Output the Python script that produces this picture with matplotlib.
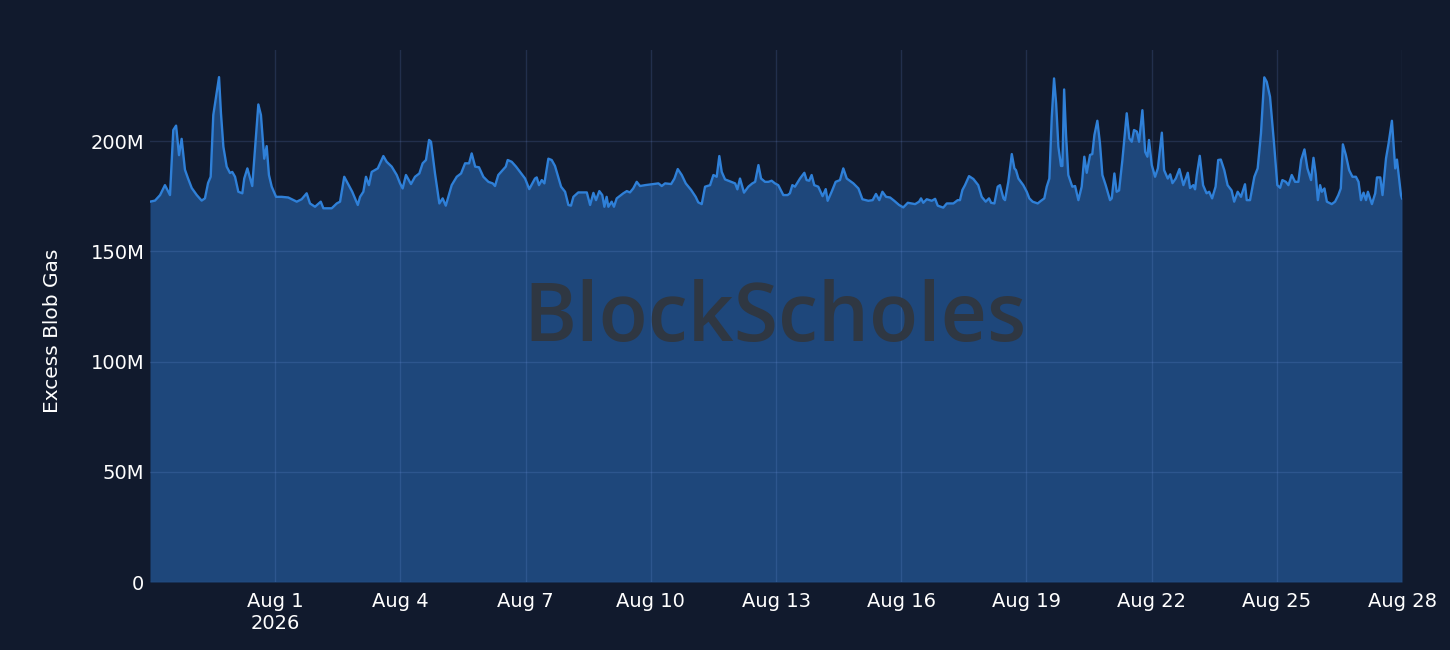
import pandas as pd
import matplotlib
matplotlib.use("Agg")
import matplotlib.pyplot as plt
from matplotlib.ticker import FuncFormatter, MultipleLocator

START = pd.Timestamp("2026-07-29 00:00")
END = pd.Timestamp("2026-08-28 00:00")

# hours since START, excess blob gas in millions
hours_1 = [0, 2.9, 5.8, 8.6, 11.5, 13.4, 15.0, 16.7, 18.2, 20.1, 21.9, 24.0, 26.9, 29.7,
           31.6, 33.4, 34.9, 36.4, 38.0, 39.7, 40.8, 42.2, 44.1, 46.0, 47.3, 48.9, 50.8,
           53.1, 54.2, 56.0, 58.8, 60.8, 62.3, 63.8, 65.7, 67.1, 68.4, 70.0, 72.5, 75.7,
           79.5, 84.4, 87.2, 90.1, 92.0, 94.9, 98.2, 99.7, 104.5, 107.4, 109.3, 111.7,
           113.7, 116.3, 119.5]
gas_1 = [172.5, 173, 175.5, 180, 175.5, 205, 207, 193.6, 201, 187, 183, 178.7, 175.5, 173,
         174, 181, 183.8, 211.8, 220, 229, 212.7, 197.4, 188.4, 185.5, 186, 183.8, 177,
         176.3, 183, 187.6, 179.6, 200.5, 216.6, 211.8, 192, 197.7, 184.6, 179.3, 174.7, 174.7,
         174.4, 172.5, 173.6, 176.3, 171.7, 170.2, 172.5, 169.5, 169.5, 171.7, 172.5, 183.8,
         180.8, 177, 171]

hours_2 = [120.8, 122.7, 124.2, 125.9, 127.5, 131.0, 134.2, 136.1, 139.0, 141.9, 143.8,
           145.3, 147.2, 150.1, 152.4, 154.9, 156.8, 158.7, 160.5, 161.6, 163.9, 166.4,
           168.3, 170.1, 173.5, 176.4, 178.9, 181.2, 183.5, 185.0, 187.0, 189.2, 191.7,
           194.6, 197.1, 198.4, 200.3, 204.6, 205.7, 208.0, 210.5, 212.8, 215.7, 218.1,
           221.4, 222.4, 223.7, 225.3, 226.8, 229.1, 231.0, 232.9, 236.4, 238.7, 240.6]
gas_2 = [174.7, 177, 183.8, 180, 186, 187.6, 193.2, 190.6, 188.4, 184.6, 180.8,
         178.5, 184.6, 180.5, 183.8, 185.3, 189.9, 191.4, 200.5, 199.7, 185.3, 171.7,
         174, 170.7, 180, 183.8, 185.3, 189.9, 189.9, 194.4, 188.4, 188.1, 183.8,
         181.5, 180.8, 179.6, 184.6, 188.4, 191.4, 190.6, 188.4, 186, 183, 178.2,
         183, 183.5, 180, 182.3, 180.8, 192, 191.4, 188.7, 179.3, 177, 171]

hours_3 = [242.1, 243.5, 246.3, 251.2, 253.1, 255.0, 256.5, 258.4, 260.1, 261.3, 262.6,
           263.6, 265.5, 266.8, 268.4, 272.2, 274.2, 276.0, 277.9, 279.9, 281.8, 284.7,
           287.6, 292.4, 294.3, 296.2, 299.7, 301.6, 303.5, 305.8, 308.1, 311.2, 313.8,
           315.3, 317.3, 319.2, 322.1, 324.0, 325.9, 327.4, 328.8, 330.7, 334.2, 336.5,
           337.8, 339.3, 341.6, 344.1, 346.4, 348.0, 349.9, 351.4, 353.7, 355.6, 357.5]
gas_3 = [170.7, 174.7, 176.7, 176.7, 171, 176.5, 173.2, 177.3, 175.5, 170.2, 174.7,
         170.2, 172.5, 170.2, 174, 176.3, 177.3, 176.7, 178.5, 181.5, 179.6, 180,
         180.3, 180.8, 179.6, 180.8, 180.5, 183, 187.3, 184.6, 180.8, 177.8, 174.7,
         172.2, 171.4, 179.3, 180, 184.6, 183.8, 193.2, 186, 182.6, 181.5, 180.8,
         178.1, 183, 176.6, 179.3, 180.8, 181.5, 189.1, 183, 181.5, 181.5, 182]

hours_4 = [359.4, 361.3, 364.2, 366.7, 368.0, 369.4, 370.9, 373.8, 376.3, 377.6, 379.1,
           380.5, 382.0, 384.3, 386.8, 388.6, 389.7, 392.0, 394.3, 396.8, 398.7, 400.7,
           404.5, 407.4, 409.7, 413.1, 415.6, 417.5, 419.4, 421.2, 423.3, 425.6, 428.0,
           430.8, 433.2, 435.8, 440.0, 442.3, 443.4, 444.7, 446.7, 449.6, 451.5, 453.0,
           456.2, 458.2, 462.0, 464.5, 465.8, 467.2, 468.7, 471.0, 473.5, 476.3, 478.3, 480.6]
gas_4 = [180.8, 180, 175.5, 175.5, 176.3, 180, 179.3, 183, 185.6, 182.3, 182,
         184.6, 180, 179.3, 175, 178.2, 172.9, 177, 181.5, 182.3, 187.6, 183,
         180.8, 178.5, 173.6, 172.9, 173.2, 176, 173.2, 177, 174.7, 174.4, 172.9,
         171, 169.9, 172, 171.4, 172.5, 174, 172, 173.6, 172.9, 173.8, 170.7,
         169.8, 171.7, 171.7, 173.2, 173.2, 177.8, 180, 184.1, 182.8, 180, 174.7, 172.5]

hours_5 = [482.5, 483.7, 485.6, 487.5, 488.8, 490.8, 491.7, 493.6, 495.6, 497.1, 498.0,
           499.4, 502.2, 504.2, 505.7, 507.6, 510.5, 512.4, 514.3, 515.7, 517.2, 518.6,
           519.9, 521.1, 522.4, 523.9, 524.7, 525.7, 526.8, 528.1, 530.4, 532.0, 533.9,
           535.8, 537.3, 538.7, 540.6, 541.9, 543.1, 544.8, 546.3, 547.7, 549.6, 552.1,
           553.1, 554.6, 555.9, 557.3, 559.2, 561.7, 563.2, 564.6, 565.9, 567.5, 568.8,
           570.7, 572.3, 573.6, 574.5, 576.1, 578.0, 579.6, 581.9, 583.2, 585.3, 586.7,
           588.0, 589.9, 592.0, 594.3, 596.8, 598.1, 600.0, 601.0, 602.0]
gas_5 = [174, 172, 171.7, 179.3, 180, 174, 173.2, 181.5, 194.1, 187.6, 186.8,
         183, 180, 177, 174, 172.5, 171.7, 172.9, 174, 179.3, 183, 211,
         228.4, 217, 197.4, 188.7, 188.7, 223.4, 202.7, 184.6, 179.3, 179.6, 173.2,
         179.3, 192.9, 185.6, 193.7, 194.1, 202.7, 209.2, 199, 184.6, 180, 173.2,
         174, 185.3, 177, 177.6, 191.4, 212.6, 201.2, 199.7, 205, 204.3, 199.7,
         214, 195.1, 192.9, 200.5, 189.1, 183.8, 187.6, 203.8, 186.8, 183, 184.9,
         180.9, 183, 187.3, 180, 185.6, 178.7, 180, 178.1, 184.6]

hours_6 = [603.7, 605.6, 607.6, 609.1, 610.8, 612.8, 614.3, 615.8, 617.8, 619.7, 622.0,
           623.5, 625.5, 627.4, 629.7, 630.7, 632.6, 635.1, 637.0, 638.9, 640.8, 642.2,
           644.1, 646.4, 648.3, 649.9, 651.2, 653.2, 654.7, 656.6, 658.5, 660.4, 662.0,
           663.9, 665.6, 667.7, 669.1, 670.4, 671.6, 672.9, 673.9, 675.4, 676.8, 679.6,
           681.5, 683.4, 684.8, 686.0, 687.7, 689.6, 691.5, 693.5, 695.0, 696.4, 697.9,
           699.3, 700.4, 702.7, 704.6, 705.6, 707.5, 708.8, 710.8, 712.3, 714.2, 716.1,
           717.1, 719.4, 720.0]
gas_6 = [193.3, 180, 176.3, 177, 174, 179.3, 191.4, 191.6, 186.8, 180, 177.6,
         172.5, 177, 174.7, 180.4, 173.2, 173.2, 183.8, 187.6, 203.5, 228.9, 226.9,
         220.1, 199, 180, 178.8, 182.3, 181.5, 180, 184.6, 181.5, 181.5, 191.4,
         196.2, 187.6, 182.3, 192.4, 184.9, 173.2, 180, 177, 178.5, 172.5, 171.4,
         172.5, 175.5, 178.5, 198.5, 193.7, 186.8, 183.8, 183.8, 181.5, 173.2, 176.6,
         173.2, 177, 171.4, 176.3, 183.5, 183.5, 175.5, 192.1, 199, 209.2, 187.6,
         191.6, 175.5, 174]

tick_dates = ["2026-08-01", "2026-08-04", "2026-08-07", "2026-08-10", "2026-08-13",
              "2026-08-16", "2026-08-19", "2026-08-22", "2026-08-25", "2026-08-28"]
tick_labels = ["Aug 1\n2026", "Aug 4", "Aug 7", "Aug 10", "Aug 13",
               "Aug 16", "Aug 19", "Aug 22", "Aug 25", "Aug 28"]

BG = "#111a2d"
FILL = "#1e477b"
LINE = "#2f80d8"
GRID = "#89adff"

hours = hours_1 + hours_2 + hours_3 + hours_4 + hours_5 + hours_6
gas = gas_1 + gas_2 + gas_3 + gas_4 + gas_5 + gas_6
df = pd.DataFrame({"time": START + pd.to_timedelta(hours, unit="h"), "gas": gas})

plt.rcParams["font.family"] = ["DejaVu Sans"]

fig = plt.figure(figsize=(14.5, 6.5), dpi=100, facecolor=BG)
ax = fig.add_axes([150 / 1450, 68 / 650, 1252 / 1450, 532 / 650])
ax.set_facecolor(BG)

ax.fill_between(df["time"], 0, df["gas"], color=FILL, lw=0, zorder=1)
ax.plot(df["time"], df["gas"], color=LINE, lw=1.7, zorder=4)

# watermark
fig.text(775 / 1450, 1 - 320 / 650, "BlockScholes", ha="center", va="center",
         fontsize=58, fontweight=600, family=["Open Sans", "DejaVu Sans"],
         color="#2f3742", zorder=2)

ax.set_xlim(START, END)
ax.set_ylim(0, 241.3)
ax.set_xticks(pd.to_datetime(tick_dates))
ax.set_xticklabels(tick_labels)
ax.yaxis.set_major_locator(MultipleLocator(50))
ax.yaxis.set_major_formatter(FuncFormatter(lambda v, p: "0" if v == 0 else f"{v:g}M"))

ax.grid(True, color=GRID, alpha=0.15, lw=1, zorder=3)
ax.set_axisbelow(False)
for s in ax.spines.values():
    s.set_visible(False)
ax.tick_params(length=0, colors="white", labelsize=14)
ax.tick_params(axis="y", pad=4)
ax.tick_params(axis="x", pad=7)

ax.set_ylabel("Excess Blob Gas", color="white", fontsize=14.5)
ax.yaxis.set_label_coords(-0.0703, 0.472)

fig.savefig("out.png", dpi=100, facecolor=BG)
